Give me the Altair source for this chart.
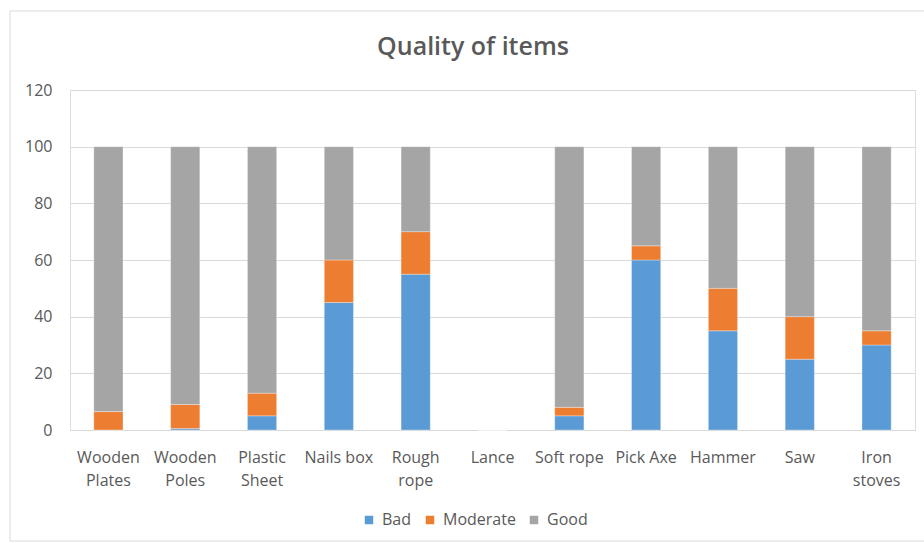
import altair as alt
import pandas as pd

items = ["Wooden Plates", "Wooden Poles", "Plastic Sheet", "Nails box", "Rough rope",
         "Lance", "Soft rope", "Pick Axe", "Hammer", "Saw", "Iron stoves"]
bad = [0, 0.5, 5, 45, 55, 0, 5, 60, 35, 25, 30]
moderate = [6.5, 8.5, 8, 15, 15, 0, 3, 5, 15, 15, 5]
good = [93.5, 91, 87, 40, 30, 0, 92, 35, 50, 60, 65]
series = ["Bad", "Moderate", "Good"]
colors = ["#5B9BD5", "#ED7D31", "#A5A5A5"]
y_ticks = [0, 20, 40, 60, 80, 100, 120]
wrapped = ["Wooden Plates", "Wooden Poles", "Plastic Sheet", "Rough rope", "Iron stoves"]
title_text = "Quality of items"

rows = []
for i, it in enumerate(items):
    for k, (s, vals) in enumerate(zip(series, [bad, moderate, good])):
        rows.append({"item": it, "quality": s, "value": vals[i], "order": k})
df = pd.DataFrame(rows)

FONT = "Open Sans"
TXT = "#595959"

wrap_list = "[" + ",".join("'" + w + "'" for w in wrapped) + "]"

bars = alt.Chart(df).mark_bar(stroke="#FFFFFF", strokeWidth=0.6, strokeOpacity=0.5).encode(
    x=alt.X("item:N", sort=items, title=None,
            scale=alt.Scale(paddingInner=0.62, paddingOuter=0.31),
            axis=alt.Axis(labelAngle=0, ticks=False, domainColor="#D9D9D9", domainWidth=1,
                          labelPadding=19, labelLineHeight=23, labelFont=FONT,
                          labelFontSize=16, labelColor=TXT, grid=False,
                          labelExpr="indexof(" + wrap_list + ", datum.label) >= 0 ? split(datum.label, ' ') : datum.label")),
    y=alt.Y("value:Q", stack="zero", title=None,
            scale=alt.Scale(domain=[0, 120], nice=False),
            axis=alt.Axis(values=y_ticks, ticks=False, domain=False, gridColor="#D9D9D9",
                          labelPadding=18, labelFont=FONT, labelFontSize=16, labelColor=TXT)),
    color=alt.Color("quality:N", sort=series,
                    scale=alt.Scale(domain=series, range=colors),
                    legend=alt.Legend(title=None, orient="none", direction="horizontal",
                                      legendX=291, legendY=422, symbolType="square",
                                      symbolSize=72, symbolStrokeWidth=0, labelFontSize=16,
                                      labelColor=TXT, labelFont=FONT, columnPadding=10,
                                      labelOffset=5)),
    order=alt.Order("order:Q"),
)

border = alt.Chart(alt.Data(values=[{"a": 1}])).mark_rect(
    fill=None, stroke="#D9D9D9", strokeWidth=1, clip=False
).encode(
    x=alt.value(-60), x2=alt.value(870), y=alt.value(-79), y2=alt.value(451)
)

title = alt.Chart(alt.Data(values=[{"t": title_text}])).mark_text(
    font=FONT, fontSize=25, fontWeight=600, color=TXT, align="center", baseline="middle"
).encode(
    x=alt.value(403), y=alt.value(-43), text="t:N"
)

chart = alt.layer(border, title, bars).properties(
    width=845, height=340,
    autosize=alt.AutoSizeParams(type="none"),
    padding={"left": 70, "top": 90, "right": 9, "bottom": 113},
).configure_view(stroke="transparent").configure(background="white")

chart.save("out.html", embed_options={"renderer": "svg", "actions": False})
